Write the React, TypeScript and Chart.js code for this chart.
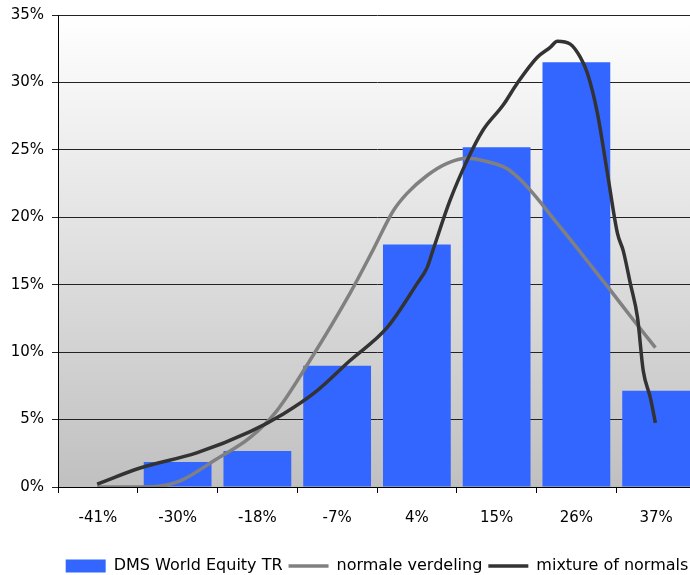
import React, { useEffect, useRef } from "react";
import { Chart, registerables } from "chart.js";

Chart.register(...registerables);

const categories = ["-41%", "-30%", "-18%", "-7%", "4%", "15%", "26%", "37%"];
const worldEquity = [0, 1.86, 2.67, 8.99, 17.98, 25.19, 31.5, 7.13];

const normalX = [-41.1, -35.1, -32.3, -29.5, -24.4, -19.8, -16.0, -11.4, -5.8, -2.6, 0.3, 2.2, 5.0, 7.8, 10.6, 12.8, 16.2, 17.6, 19.8, 22.2, 26.0, 28.8, 30.6, 33.8, 36.9];
const normalY = [0.0, 0.0, 0.07, 0.45, 2.08, 3.64, 5.65, 9.36, 14.34, 17.53, 20.5, 21.77, 23.1, 24.0, 24.37, 24.2, 23.6, 23.0, 21.77, 20.2, 17.7, 15.8, 14.6, 12.4, 10.33];

const mixtureX = [-41.1, -35.1, -27.2, -19.8, -15.1, -10.4, -5.8, -0.6, 3.6, 5.0, 5.8, 8.2, 10.6, 12.8, 15.6, 17.6, 20.4, 22.2, 23.2, 25.0, 26.4, 27.4, 28.8, 30.2, 31.6, 32.4, 33.4, 34.4, 35.2, 36.2, 36.9];
const mixtureY = [0.22, 1.41, 2.53, 4.09, 5.42, 7.13, 9.36, 11.81, 15.08, 16.27, 17.53, 21.25, 24.22, 26.45, 28.3, 29.94, 31.87, 32.6, 33.06, 32.84, 31.87, 30.68, 27.71, 23.25, 18.8, 17.53, 15.08, 12.56, 8.62, 6.61, 4.75];

const yTicks = [0, 5, 10, 15, 20, 25, 30, 35];

const FONT = { family: "'DejaVu Sans', sans-serif", size: 15 };
const Y_FONT = { family: "'DejaVu Sans', sans-serif", size: 15, lineHeight: 0.8 };
const LEGEND_FONT = { family: "'DejaVu Sans', sans-serif", size: 16 };

export default function App() {
  const ref = useRef<HTMLCanvasElement | null>(null);

  useEffect(() => {
    if (!ref.current) return;
    const bgPlugin = {
      id: "bgGradient",
      afterLayout(chart: any) {
        const lg = chart.legend;
        const ca = chart.chartArea;
        if (!lg || !ca) return;
        const dx = (ca.left + ca.right) / 2 - (lg.left + lg.right) / 2;
        lg.left += dx;
        lg.right += dx;
        lg.top += 9;
        lg.bottom += 9;
      },
      beforeDraw(chart: any) {
        const { ctx } = chart;
        const ys = chart.scales.y;
        const xs = chart.scales.x;
        if (!ys || !xs) return;
        const g = ctx.createLinearGradient(0, ys.top, 0, ys.bottom);
        g.addColorStop(0, "#ffffff");
        g.addColorStop(1, "#c0c0c0");
        ctx.save();
        ctx.fillStyle = g;
        ctx.fillRect(xs.left, ys.top, xs.right - xs.left, ys.bottom - ys.top);
        ctx.restore();
      },
    };

    const chart = new Chart(ref.current, {
      type: "bar",
      data: {
        labels: categories,
        datasets: [
          {
            type: "bar",
            label: "DMS World Equity TR",
            data: worldEquity,
            backgroundColor: "#3366ff",
            borderWidth: 0,
            barPercentage: 0.85,
            categoryPercentage: 1,
            grouped: false,
            pointStyle: "rect",
            xAxisID: "x",
            order: 3,
          } as any,
          {
            type: "line",
            label: "normale verdeling",
            data: normalX.map((x, i) => ({ x, y: normalY[i] })),
            borderColor: "#808080",
            backgroundColor: "#808080",
            borderWidth: 3.5,
            pointRadius: 0,
            pointStyle: "line",
            cubicInterpolationMode: "monotone",
            xAxisID: "x2",
            order: 2,
          } as any,
          {
            type: "line",
            label: "mixture of normals",
            data: mixtureX.map((x, i) => ({ x, y: mixtureY[i] })),
            borderColor: "#333333",
            backgroundColor: "#333333",
            borderWidth: 3.5,
            pointRadius: 0,
            pointStyle: "line",
            cubicInterpolationMode: "monotone",
            xAxisID: "x2",
            order: 1,
          } as any,
        ],
      },
      options: {
        responsive: false,
        animation: false,
        layout: { padding: { top: 15, left: 0, right: 0, bottom: 0 } },
        plugins: {
          tooltip: { enabled: false },
          legend: {
            position: "bottom",
            labels: {
              usePointStyle: true,
              pointStyleWidth: 40,
              boxHeight: 13,
              padding: 6,
              color: "#000",
              font: LEGEND_FONT,
              sort: (a: any, b: any) => a.datasetIndex - b.datasetIndex,
            },
          },
        },
        scales: {
          x: {
            type: "category",
            offset: true,
            afterFit(scale: any) {
              scale.height = 56;
            },
            grid: {
              display: true,
              drawOnChartArea: false,
              drawTicks: true,
              tickLength: 6,
              color: "#000",
              offset: true,
            },
            border: { color: "#000", width: 1 },
            ticks: { color: "#000", font: FONT, padding: 16, maxRotation: 0 },
          },
          x2: {
            type: "linear",
            display: false,
            offset: false,
            min: -41 - 78 / 14,
            max: 37 + 78 / 14,
          },
          y: {
            type: "linear",
            min: 0,
            max: 35,
            afterFit(scale: any) {
              scale.width = 58;
            },
            afterBuildTicks(scale: any) {
              scale.ticks = yTicks.map((v) => ({ value: v }));
            },
            grid: { color: "#222", lineWidth: 1, tickLength: 6, drawTicks: true },
            border: { color: "#000", width: 1 },
            ticks: {
              color: "#000",
              font: Y_FONT,
              padding: 8,
              callback: (v: any) => v + "%",
            },
          },
        },
      },
      plugins: [bgPlugin],
    } as any);
    return () => chart.destroy();
  }, []);

  return (
    <div style={{ position: "fixed", left: 0, top: 0, width: 690, height: 575, overflow: "hidden", background: "#fff" }}>
      <canvas ref={ref} width={696} height={575} style={{ display: "block" }} />
    </div>
  );
}
